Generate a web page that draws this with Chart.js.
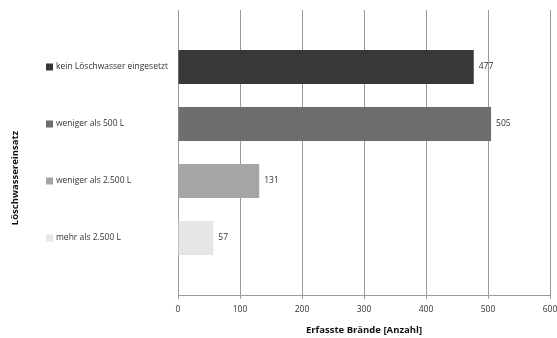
<!DOCTYPE html>
<html>
<head>
<meta charset="utf-8">
<script src="https://cdn.jsdelivr.net/npm/chart.js@4/dist/chart.umd.min.js"></script>
<style>
  html, body { margin: 0; padding: 0; background: #fff; }
  #wrap { width: 557px; height: 338px; }
</style>
</head>
<body>
<div id="wrap"><canvas id="chart"></canvas></div>
<script>
// data
const categories = ["kein Löschwasser eingesetzt", "weniger als 500 L", "weniger als 2.500 L", "mehr als 2.500 L"];
const values = [477, 505, 131, 57];
const barColors = ["#383838", "#6e6e6e", "#a5a5a5", "#e6e6e6"];
const xTicks = [0, 100, 200, 300, 400, 500, 600];
const xTitle = "Erfasste Brände [Anzahl]";
const yTitle = "Löschwassereinsatz";

const FONT = "'Open Sans', sans-serif";
const TEXT = "#333";
const GRID = "#9a9a9a";

// empty slot above and below so the bars sit like in the original
const labels = ["", ...categories, ""];
const padded = [null, ...values, null];
const paddedColors = ["#fff", ...barColors, "#fff"];

// draws the legend squares + category names, the y title and the value labels
const decorations = {
    id: "decorations",
    afterDatasetsDraw(chart) {
        const ctx = chart.ctx;
        const y = chart.scales.y;
        const x = chart.scales.x;
        ctx.save();
        ctx.textBaseline = "middle";

        categories.forEach((cat, i) => {
            const py = y.getPixelForValue(i + 1);
            ctx.fillStyle = barColors[i];
            ctx.fillRect(46, Math.round(py) - 3.5, 7, 7);
            ctx.fillStyle = TEXT;
            ctx.font = "8.5px " + FONT;
            ctx.textAlign = "left";
            ctx.fillText(cat, 56, py);

            // value at the end of the bar
            ctx.fillText(String(values[i]), x.getPixelForValue(values[i]) + 5, py);
        });

        // rotated axis title
        ctx.translate(15, 178);
        ctx.rotate(-Math.PI / 2);
        ctx.textAlign = "center";
        ctx.font = "bold 9.5px " + FONT;
        ctx.fillStyle = "#111";
        ctx.fillText(yTitle, 0, 0);
        ctx.restore();
    }
};

new Chart(document.getElementById("chart"), {
    type: "bar",
    data: {
        labels: labels,
        datasets: [{
            data: padded,
            backgroundColor: paddedColors,
            borderWidth: 0,
            barPercentage: 0.6,
            categoryPercentage: 1
        }]
    },
    options: {
        indexAxis: "y",
        responsive: true,
        maintainAspectRatio: false,
        animation: false,
        layout: { padding: { top: 10, right: 0, left: 0, bottom: 0 } },
        plugins: {
            legend: { display: false },
            tooltip: { enabled: false }
        },
        scales: {
            x: {
                min: 0,
                max: 600,
                afterBuildTicks: (s) => { s.ticks = xTicks.map(v => ({ value: v })); },
                afterFit: (s) => {
                    s.height = 43;
                    s.paddingLeft = 0;
                    s.paddingRight = 7;
                },
                grid: { color: GRID, lineWidth: 1, tickLength: 4 },
                border: { color: GRID },
                ticks: { color: TEXT, font: { family: FONT, size: 8.5 }, padding: 5 },
                title: {
                    display: true,
                    text: xTitle,
                    color: "#111",
                    font: { family: FONT, size: 9.5, weight: "bold" },
                    padding: { top: 3, bottom: 2 }
                }
            },
            y: {
                offset: false,
                afterFit: (s) => { s.width = 178; },
                grid: { display: false },
                border: { display: false },
                ticks: { display: false }
            }
        }
    },
    plugins: [decorations]
});
</script>
</body>
</html>
